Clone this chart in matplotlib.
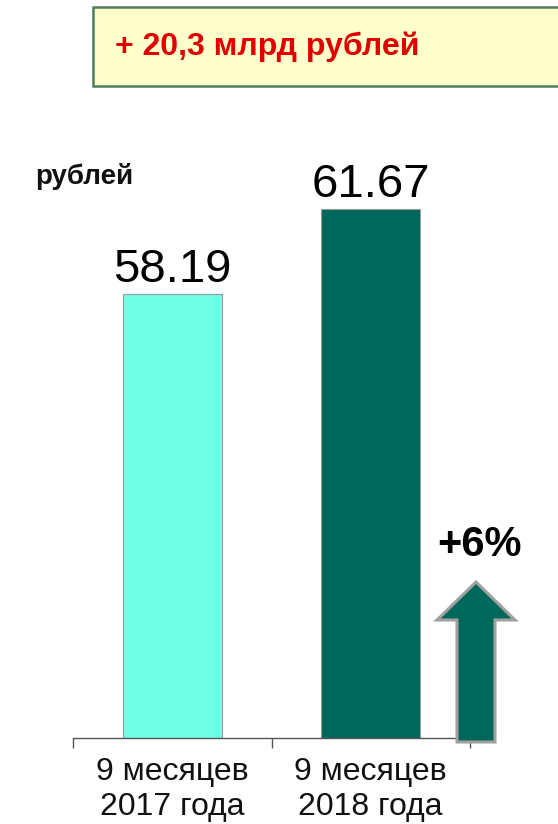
"""Средняя зарплата: 9 месяцев 2017 vs 2018 (recreation)."""

import matplotlib
matplotlib.use("Agg")
import matplotlib.pyplot as plt
from matplotlib.patches import Rectangle, Polygon

plt.rcParams["font.family"] = ["Liberation Sans", "DejaVu Sans"]

# data
categories = ["9 месяцев\n2017 года", "9 месяцев\n2018 года"]
values = [58.19, 61.67]
bar_colors = ["#70FFE6", "#00685A"]
value_labels = ["58.19", "61.67"]
unit_label = "рублей"
banner_text = "+ 20,3 млрд рублей"
growth_text = "+6%"

W, H = 558, 824
fig = plt.figure(figsize=(W / 100, H / 100), dpi=100)


def fx(px):
    return px / W


def fy(py):
    # py counted from top of picture
    return 1 - py / H


# axes: x from 73 to 470 px, baseline at 738 px, 40..64 over ~586 px
ax = fig.add_axes([fx(73), fy(738), fx(470) - fx(73), 586.3 / H])
x = list(range(len(values)))
ax.bar(x, values, width=0.5, color=bar_colors, edgecolor="#9A9A9A", linewidth=0.8, zorder=2)
ax.set_xlim(-0.5, len(values) - 0.5)
ax.set_ylim(40, 64)

for xi, v, lab in zip(x, values, value_labels):
    ax.annotate(lab, (xi, v), xytext=(0, 8.6), textcoords="offset points",
                ha="center", va="baseline", fontsize=34, color="black")

for s in ["top", "right", "left"]:
    ax.spines[s].set_visible(False)
ax.spines["bottom"].set_color("#555555")
ax.spines["bottom"].set_linewidth(1.0)
ax.set_yticks([])
ax.set_xticks(x)
ax.set_xticklabels(categories, fontsize=23, color="#111111")
ax.tick_params(axis="x", which="major", length=0, pad=14)
ax.set_xticks([-0.5, 0.5, 1.5], minor=True)
ax.tick_params(axis="x", which="minor", length=7.5, width=1.0, color="#555555", direction="out")

# banner box at the top
fig.patches.append(Rectangle((fx(93), fy(86)), fx(600) - fx(93), fy(7) - fy(86),
                             transform=fig.transFigure, facecolor="#FFFFCC",
                             edgecolor="#4E7C5C", linewidth=1.8, zorder=1))
fig.text(fx(115), fy(55), banner_text, fontsize=23, fontweight="bold",
         color="#E00000", ha="left", va="baseline")

fig.text(fx(35), fy(184), unit_label, fontsize=20, fontweight="bold",
         color="#111111", ha="left", va="baseline")

# growth arrow
arrow_pts = [(437, 620), (476, 582), (515, 620), (495, 620), (495, 742),
             (457, 742), (457, 620)]
fig.patches.append(Polygon([(fx(a), fy(b)) for a, b in arrow_pts], closed=True,
                           transform=fig.transFigure, facecolor="#00685A",
                           edgecolor="#A0A0A0", linewidth=2.2, zorder=3))
fig.text(fx(437), fy(556), growth_text, fontsize=30, fontweight="bold",
         color="black", ha="left", va="baseline")

fig.savefig("out.png", dpi=100)
